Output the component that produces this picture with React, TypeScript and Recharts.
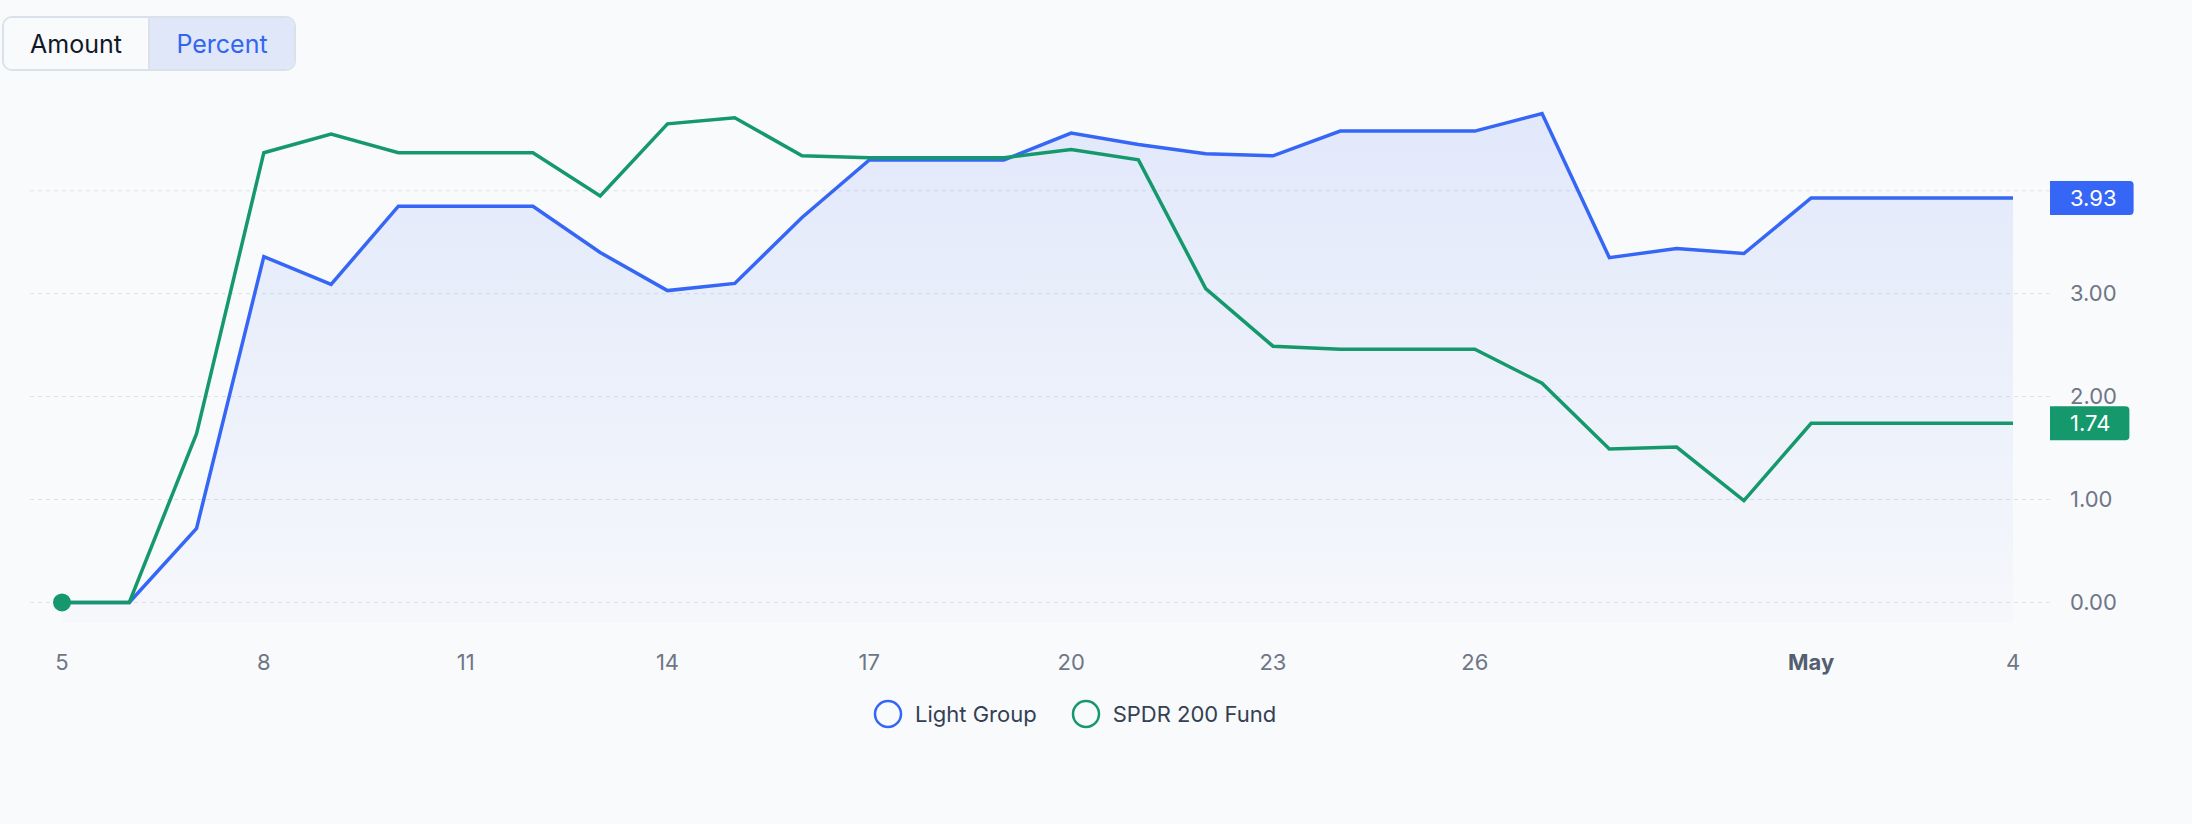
import React from "react";
import {
  ComposedChart, Area, Line, XAxis, YAxis, CartesianGrid, ReferenceLine, Legend,
} from "recharts";

// daily return (%) since the start of the period
const dates = [
  "Apr 5", "Apr 6", "Apr 7", "Apr 8", "Apr 9", "Apr 10", "Apr 11", "Apr 12", "Apr 13", "Apr 14",
  "Apr 15", "Apr 16", "Apr 17", "Apr 18", "Apr 19", "Apr 20", "Apr 21", "Apr 22", "Apr 23", "Apr 24",
  "Apr 25", "Apr 26", "Apr 27", "Apr 28", "Apr 29", "Apr 30", "May 1", "May 2", "May 3", "May 4",
];
const lightGroup = [
  0, 0, 0.72, 3.36, 3.09, 3.85, 3.85, 3.85, 3.4, 3.03,
  3.1, 3.74, 4.3, 4.3, 4.3, 4.56, 4.45, 4.36, 4.34, 4.58,
  4.58, 4.58, 4.75, 3.35, 3.44, 3.39, 3.93, 3.93, 3.93, 3.93,
];
const spdr200 = [
  0, 0, 1.64, 4.37, 4.55, 4.37, 4.37, 4.37, 3.95, 4.65,
  4.71, 4.34, 4.32, 4.32, 4.32, 4.4, 4.3, 3.05, 2.49, 2.46,
  2.46, 2.46, 2.13, 1.49, 1.51, 0.99, 1.74, 1.74, 1.74, 1.74,
];
const seriesNames = ["Light Group", "SPDR 200 Fund"];
const xTicks = [0, 3, 6, 9, 12, 15, 18, 21, 26, 29];
const yTicks = [0, 1, 2, 3, 4];

const BLUE = "#3566f5";
const GREEN = "#15996c";
const TICK = "#6e7687";

const data = dates.map((date, i) => ({ i, date, light: lightGroup[i], spdr: spdr200[i] }));

const lastLight = lightGroup[lightGroup.length - 1];
const lastSpdr = spdr200[spdr200.length - 1];

function DateTick({ x, y, payload }: any) {
  const [mon, day] = dates[payload.value].split(" ");
  const monthStart = day === "1";
  return (
    <text x={x} y={y} dy="0.71em" textAnchor="middle" fontSize={22}
      fontWeight={monthStart ? 700 : 400} fill={monthStart ? "#555e70" : TICK}>
      {monthStart ? mon : day}
    </text>
  );
}

const charW = (c: string) => (c === "." ? 6 : c === "1" ? 9 : 13.2);

// value tag sitting on the right axis
function ValueBadge({ viewBox, text, fill }: any) {
  const x = viewBox.x + viewBox.width;
  const y = viewBox.y;
  const w = 38 + text.split("").reduce((s: number, c: string) => s + charW(c), 0);
  const h = 34;
  const r = 4;
  const top = y - h / 2;
  const d = `M${x},${top} H${x + w - r} Q${x + w},${top} ${x + w},${top + r} V${top + h - r} Q${x + w},${top + h} ${x + w - r},${top + h} H${x} Z`;
  return (
    <g>
      <path d={d} fill={fill} />
      <text x={x + 20} y={y} dominantBaseline="central" fontSize={22} fill="#ffffff">{text}</text>
    </g>
  );
}

function LegendRow({ payload }: any) {
  return (
    <div style={{ display: "flex", alignItems: "center", height: 34 }}>
      {payload.map((p: any, i: number) => (
        <div key={i} style={{ display: "flex", alignItems: "center", marginRight: i === 0 ? 34 : 0 }}>
          <svg width={30} height={30} style={{ marginRight: 12 }}>
            <circle cx={15} cy={15} r={13} fill="none" stroke={p.color} strokeWidth={2.5} />
          </svg>
          <span style={{ fontSize: 22, color: "#344054" }}>{p.value}</span>
        </div>
      ))}
    </div>
  );
}

function FirstDot({ cx, cy, index }: any) {
  if (index !== 0) return null;
  return <circle cx={cx} cy={cy} r={9} fill={GREEN} />;
}

export default function App() {
  return (
    <div style={{ position: "fixed", inset: 0, background: "#f9fafb", fontFamily: "Inter, sans-serif" }}>
      {/* Amount / Percent switch */}
      <div style={{
        position: "absolute", left: 2, top: 16, display: "flex", height: 55, boxSizing: "border-box",
        border: "2px solid #dbe1ea", borderRadius: 10, overflow: "hidden", fontSize: 25,
      }}>
        <div style={{ width: 144, display: "flex", alignItems: "center", justifyContent: "center", color: "#111827", background: "#f8fafc", borderRight: "2px solid #dbe1ea" }}>
          Amount
        </div>
        <div style={{ width: 144, display: "flex", alignItems: "center", justifyContent: "center", color: "#3366f0", background: "#dfe7f8" }}>
          Percent
        </div>
      </div>

      <ComposedChart width={2192} height={760} data={data}
        margin={{ top: 93, right: 0, bottom: 107, left: 30 }}>
        <defs>
          <linearGradient id="lightFill" x1="0" y1="0" x2="0" y2="1">
            <stop offset="0%" stopColor={BLUE} stopOpacity={0.2} />
            <stop offset="100%" stopColor={BLUE} stopOpacity={0.03} />
          </linearGradient>
        </defs>
        <CartesianGrid vertical={false} syncWithTicks stroke="#dde2e9" strokeDasharray="4 4" />
        <XAxis dataKey="i" type="number" domain={[0, 29]} ticks={xTicks} interval={0}
          padding={{ left: 32, right: 37 }} axisLine={false} tickLine={false} tickMargin={25}
          tick={<DateTick />} />
        <YAxis orientation="right" width={142} domain={[-0.2, 4.95]} ticks={yTicks}
          tickFormatter={(v: number) => v.toFixed(2)} axisLine={false} tickLine={false} tickMargin={14}
          tick={{ fontSize: 22, fill: TICK }} />
        <Area dataKey="light" name={seriesNames[0]} type="linear" stroke={BLUE} strokeWidth={3.5}
          fill="url(#lightFill)" baseValue="dataMin" dot={false} activeDot={false} isAnimationActive={false} />
        <Line dataKey="spdr" name={seriesNames[1]} type="linear" stroke={GREEN} strokeWidth={3.5}
          dot={<FirstDot />} activeDot={false} isAnimationActive={false} />
        <ReferenceLine y={lastLight} stroke="none" zIndex={2000}
          label={<ValueBadge text={lastLight.toFixed(2)} fill={BLUE} />} />
        <ReferenceLine y={lastSpdr} stroke="none" zIndex={2000}
          label={<ValueBadge text={lastSpdr.toFixed(2)} fill={GREEN} />} />
        <Legend verticalAlign="middle" wrapperStyle={{ left: 873, top: 697, width: "auto" }}
          content={<LegendRow />} />
      </ComposedChart>
    </div>
  );
}
